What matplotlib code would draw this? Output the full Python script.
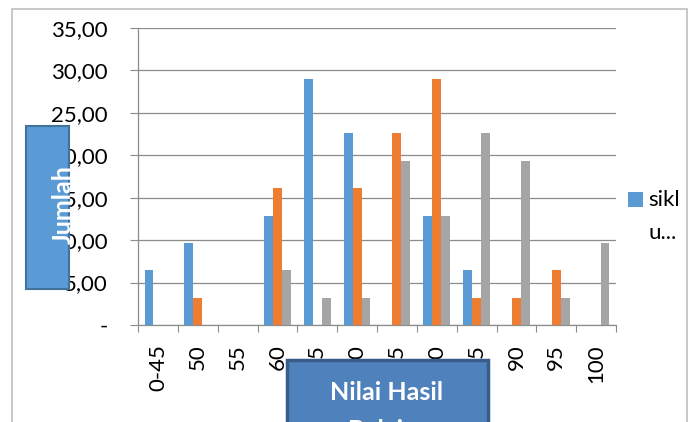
import matplotlib
matplotlib.use("Agg")
import matplotlib.pyplot as plt
from matplotlib.patches import Rectangle
import numpy as np

plt.rcParams['font.family'] = ['Lato', 'DejaVu Sans']

categories = ['0-45', '50', '55', '60', '65', '70', '75', '80', '85', '90', '95', '100']
series_names = ['siklus I', 'siklus II', 'siklus III']
siklus_1 = [6.45, 9.68, 0, 12.90, 29.03, 22.58, 0, 12.90, 6.45, 0, 0, 0]
siklus_2 = [0, 3.23, 0, 16.13, 0, 16.13, 22.58, 29.03, 3.23, 3.23, 6.45, 0]
siklus_3 = [0, 0, 0, 6.45, 3.23, 3.23, 19.35, 12.90, 22.58, 19.35, 3.23, 9.68]
colors = ['#5B9BD5', '#ED7D31', '#A5A5A5']
yticks = [0, 5, 10, 15, 20, 25, 30, 35]

W, H = 694, 422
fig = plt.figure(figsize=(W / 100, H / 100), dpi=100)
ax = fig.add_axes([138 / W, 1 - 325 / H, (616 - 138) / W, (325 - 28) / H])

x = np.arange(len(categories))
bw = 1 / 4.5
for i, (vals, c) in enumerate(zip([siklus_1, siklus_2, siklus_3], colors)):
    ax.bar(x + (i - 1) * bw, vals, bw, color=c, label=series_names[i], zorder=3)

ax.set_xlim(-0.5, len(categories) - 0.5)
ax.set_ylim(0, 35)
ax.set_yticks(yticks)
ax.set_yticklabels(['-'] + [f'{v:.2f}'.replace('.', ',') for v in yticks[1:]], fontsize=16)
ax.tick_params(axis='y', length=6, width=0.8, color='#8C8C8C', pad=16)
ax.yaxis.grid(True, color='#8C8C8C', linewidth=0.9, zorder=0)

ax.set_xticks(x)
ax.set_xticklabels(categories, rotation=90, fontsize=16, va='top')
ax.set_xticks(np.arange(len(categories) + 1) - 0.5, minor=True)
ax.tick_params(axis='x', which='major', length=0, pad=14)
ax.tick_params(axis='x', which='minor', length=5, width=0.8, color='#8C8C8C')

for s in ['top', 'right']:
    ax.spines[s].set_visible(False)
for s in ['left', 'bottom']:
    ax.spines[s].set_color('#8C8C8C')
    ax.spines[s].set_linewidth(0.9)

# outer chart border
fig.patches.append(Rectangle((12 / W, -0.1), (687 - 12) / W, 1.1 - 9 / H, transform=fig.transFigure,
                             facecolor='none', edgecolor='#BFBFBF', linewidth=1.2, zorder=-1))

# y axis title box
fig.patches.append(Rectangle((26 / W, 1 - 289 / H), 43 / W, 163 / H, transform=fig.transFigure,
                             facecolor='#5B9BD5', edgecolor='#41719C', linewidth=1.5, zorder=1))
fig.text(63 / W, 1 - 205 / H, 'Jumlah', rotation=90, color='white', fontsize=18,
         fontweight='bold', ha='center', va='center')

# x axis title box
fig.patches.append(Rectangle((287 / W, -0.2), 201 / W, 0.2 + 1 - 360 / H, transform=fig.transFigure,
                             facecolor='#4F81BD', edgecolor='#385D8A', linewidth=2.5, zorder=1))
fig.text(387 / W, 1 - 392 / H, 'Nilai Hasil', color='white', fontsize=18,
         fontweight='bold', ha='center', va='center')
fig.text(387 / W, 1 - 430 / H, 'Belajar', color='white', fontsize=18,
         fontweight='bold', ha='center', va='center')

# legend (truncated, as in the original)
fig.patches.append(Rectangle((628 / W, 1 - 207 / H), 15 / W, 15 / H, transform=fig.transFigure,
                             facecolor=colors[0], edgecolor='none', zorder=1))
fig.text(648 / W, 1 - 200 / H, 'sikl', fontsize=16, ha='left', va='center')
fig.text(649 / W, 1 - 233 / H, 'u...', fontsize=16, ha='left', va='center')

fig.savefig('out.png', dpi=100)
